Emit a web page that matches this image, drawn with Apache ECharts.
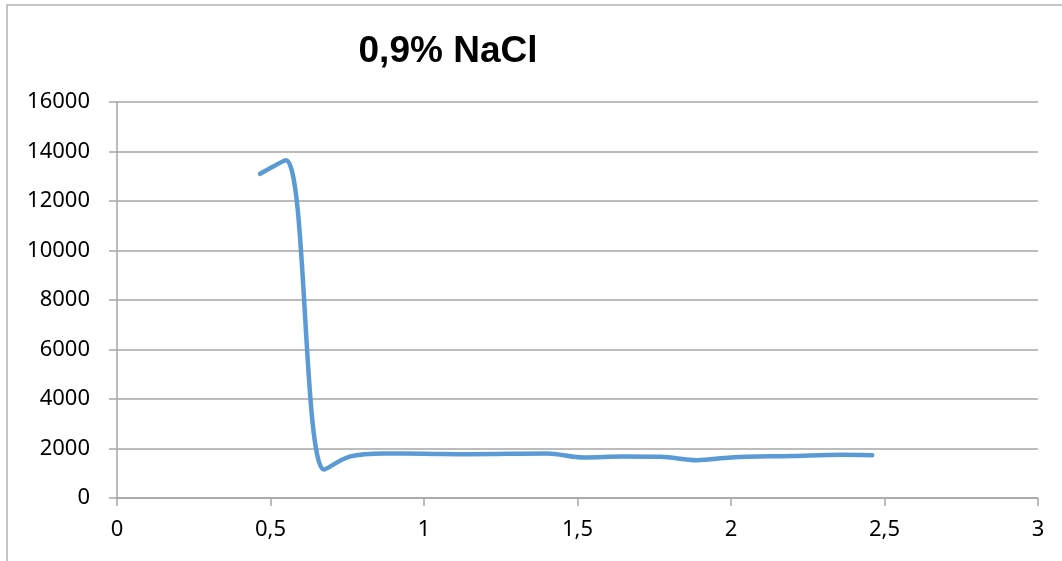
<!DOCTYPE html>
<html>
<head>
<meta charset="utf-8">
<title>0,9% NaCl</title>
<script src="https://cdn.jsdelivr.net/npm/echarts@6/dist/echarts.min.js"></script>
<style>
  html, body { margin: 0; padding: 0; background: #ffffff; }
  #chart { width: 1062px; height: 561px; }
</style>
</head>
<body>
<div id="chart"></div>
<script>
// Measured curve: x position and signal value
const xValues = [0.466, 0.55, 0.675, 0.76, 0.87, 1.0, 1.15, 1.4, 1.52, 1.65, 1.77, 1.89, 2.0, 2.2, 2.36, 2.46];
const yValues = [13100, 13650, 1150, 1680, 1800, 1790, 1770, 1800, 1640, 1680, 1670, 1530, 1640, 1700, 1750, 1730];
const xTicks = [0, 0.5, 1, 1.5, 2, 2.5, 3];
const yTicks = [0, 2000, 4000, 6000, 8000, 10000, 12000, 14000, 16000];
const titleText = '0,9% NaCl';

const points = xValues.map((x, i) => [x, yValues[i]]);
// Decimal comma on the x axis, plain integers on the y axis
const fmtX = v => String(v).replace('.', ',');
const fmtY = v => String(v);

const chart = echarts.init(document.getElementById('chart'), null, { renderer: 'canvas' });
chart.setOption({
  animation: false,
  backgroundColor: '#ffffff',
  title: {
    text: titleText,
    left: 443,
    top: 28,
    textAlign: 'center',
    textStyle: {
      fontFamily: 'Liberation Sans, Arial, sans-serif',
      fontWeight: 'bold',
      fontSize: 37,
      color: '#000000'
    }
  },
  graphic: [{
    type: 'rect',
    silent: true,
    shape: { x: 7, y: 5, width: 2000, height: 2000 },
    style: { fill: 'none', stroke: '#b3b3b3', lineWidth: 1.5 }
  }],
  grid: { left: 117, right: 24, top: 102, bottom: 63, containLabel: false },
  xAxis: {
    type: 'value',
    min: xTicks[0],
    max: xTicks[xTicks.length - 1],
    interval: 0.5,
    axisLine: { show: true, onZero: false, lineStyle: { color: '#a6a6a6', width: 1.5 } },
    axisTick: { show: true, length: 8, lineStyle: { color: '#a6a6a6', width: 1.5 } },
    splitLine: { show: false },
    axisLabel: {
      margin: 21,
      formatter: fmtX,
      fontFamily: 'Noto Sans, sans-serif',
      fontSize: 22,
      color: '#000000'
    }
  },
  yAxis: {
    type: 'value',
    min: yTicks[0],
    max: yTicks[yTicks.length - 1],
    interval: 2000,
    axisLine: { show: true, lineStyle: { color: '#a6a6a6', width: 1.5 } },
    axisTick: { show: true, length: 8, lineStyle: { color: '#a6a6a6', width: 1.5 } },
    splitLine: { show: true, lineStyle: { color: '#a6a6a6', width: 1.5 } },
    axisLabel: {
      margin: 27,
      formatter: fmtY,
      fontFamily: 'Noto Sans, sans-serif',
      fontSize: 22,
      color: '#000000'
    }
  },
  series: [{
    type: 'line',
    data: points,
    smooth: 0.35,
    showSymbol: false,
    lineStyle: { color: '#5b9bd5', width: 4.5, cap: 'round', join: 'round' },
    itemStyle: { color: '#5b9bd5' }
  }]
});
</script>
</body>
</html>
